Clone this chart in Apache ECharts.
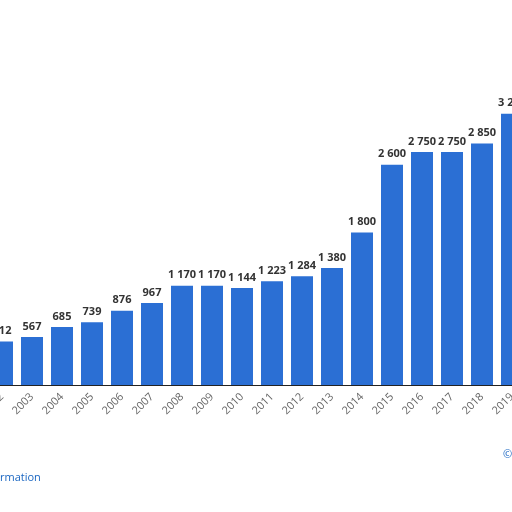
<!DOCTYPE html><html><head><meta charset="utf-8"><script src="https://cdn.jsdelivr.net/npm/echarts@6/dist/echarts.min.js"></script></head><body style="margin:0;overflow:hidden;width:512px;height:512px;position:relative"><div id="c" style="width:540px;height:512px;position:absolute;left:-13px;top:0"></div><script>
const years=['2002','2003','2004','2005','2006','2007','2008','2009','2010','2011','2012','2013','2014','2015','2016','2017','2018','2019'];
const values=[512,567,685,739,876,967,1170,1170,1144,1223,1284,1380,1800,2600,2750,2750,2850,3200];
const labels=['512','567','685','739','876','967','1 170','1 170','1 144','1 223','1 284','1 380','1 800','2 600','2 750','2 750','2 850','3 200'];
const ch=echarts.init(document.getElementById('c'));
ch.setOption({animation:false,backgroundColor:'#fff',
grid:{left:0,right:0,top:46,bottom:127,containLabel:false,outerBoundsMode:'none'},
xAxis:{type:'category',data:years,axisLine:{lineStyle:{color:'#222'}},axisTick:{show:false},axisLabel:{rotate:45,color:'#666',fontSize:11,fontFamily:'Open Sans',interval:0,margin:10}},
yAxis:{type:'value',min:0,max:4000,show:false,splitLine:{show:false}},
series:[{type:'bar',data:values,barWidth:22,itemStyle:{color:'#2b6fd4'},
label:{show:true,position:'top',color:'#333',fontWeight:'bold',fontSize:11,fontFamily:'Open Sans',formatter:p=>labels[p.dataIndex]}}],
graphic:[{type:'text',left:13,top:472,style:{text:'rmation',fill:'#1a66c2',font:'11px Open Sans'}},
{type:'text',left:516,top:449,style:{text:'©',fill:'#1a66c2',font:'11px Open Sans'}}]});
</script></body></html>
